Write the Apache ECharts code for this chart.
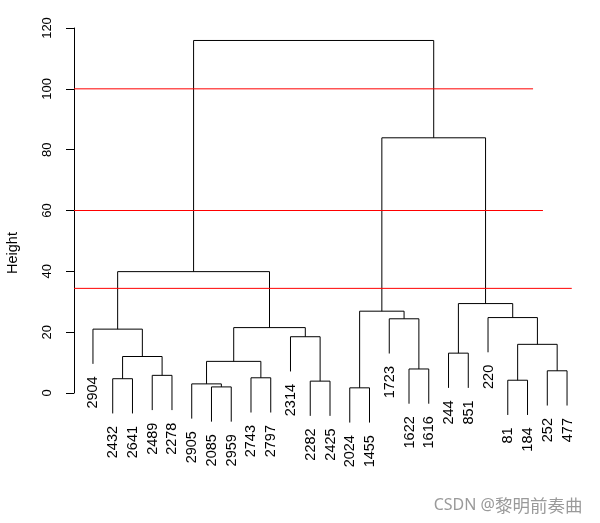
<!DOCTYPE html>
<html><head><meta charset="utf-8">
<script src="https://cdn.jsdelivr.net/npm/echarts@6/dist/echarts.min.js"></script>
<style>html,body{margin:0;padding:0;background:#fff}#c{width:600px;height:523px}</style>
</head><body><div id="c"></div>
<script>
// Leaf labels in dendrogram order
const leafLabels = ['2904','2432','2641','2489','2278','2905','2085','2959','2743','2797','2314','2282','2425','2024','1455','1723','1622','1616','244','851','220','81','184','252','477'];
// Merge table (R hclust style): negative = leaf position (1-based in order), positive = earlier merge number
const mergeA = [-14,-7,-6,-12,-22,-2,-9,-4,-24,-17,3,6,-19,5,-11,-1,11,-16,-21,1,13,16,20,22];
const mergeB = [-15,-8,2,-13,-23,-3,-10,-5,-25,-18,7,8,-20,9,4,12,15,10,14,18,19,17,21,23];
const mergeHeight = [1.7,2.0,3.0,3.9,4.2,4.7,5.0,5.8,7.3,7.9,10.4,12.0,13.1,16.0,18.5,21.0,21.5,24.4,24.8,26.9,29.4,39.9,83.9,115.9];
// Red cut lines: height and right end (in leaf-position units)
const cutHeights = [100, 60, 34.4];
const cutEnds = [23.28, 23.78, 25.24];
const yTicks = [0, 20, 40, 60, 80, 100, 120];

const n = leafLabels.length;
const xMin = 1 - 0.04 * (n - 1), xMax = n + 0.04 * (n - 1);
const hang = 0.1 * (Math.max(...mergeHeight) - Math.min(...mergeHeight));
const nodeX = [];
function childX(c) { return c < 0 ? -c : nodeX[c - 1]; }
for (let i = 0; i < mergeA.length; i++) nodeX.push((childX(mergeA[i]) + childX(mergeB[i])) / 2);

const chart = echarts.init(document.getElementById('c'), null, {renderer: 'canvas'});

function renderItem(params, api) {
  const i = api.value(0);
  const h = mergeHeight[i];
  const children = [];
  const pts = [];
  [mergeA[i], mergeB[i]].forEach((c, k) => {
    const cx = childX(c);
    const bottom = c < 0 ? h - hang : mergeHeight[c - 1];
    const pb = api.coord([cx, bottom]);
    const pt = api.coord([cx, h]);
    if (k === 0) { pts.push(pb, pt); } else { pts.push(pt, pb); }
    if (c < 0) {
      children.push({
        type: 'text', x: pb[0] + 0.5, y: pb[1] + 12.5, rotation: Math.PI / 2,
        style: { text: leafLabels[-c - 1], fill: '#000', font: '14.5px "Liberation Sans", Arial, sans-serif', align: 'right', verticalAlign: 'middle' }
      });
    }
  });
  children.push({ type: 'polyline', shape: { points: pts }, style: { stroke: '#000', lineWidth: 1, fill: null } });
  return { type: 'group', children: children };
}

const series = [{
  type: 'custom', renderItem: renderItem, clip: false,
  data: mergeHeight.map((h, i) => [i, h]),
  encode: { x: -1, y: 1 }, silent: true
}];
cutHeights.forEach((h, i) => {
  series.push({ type: 'line', data: [[xMin, h], [cutEnds[i], h]], symbol: 'none', silent: true,
    lineStyle: { color: '#ff0000', width: 1 }, z: 3 });
});

chart.setOption({
  animation: false,
  backgroundColor: '#fff',
  grid: { left: 74, right: 14, top: 28, bottom: 130 },
  xAxis: { type: 'value', min: xMin, max: xMax, show: false },
  yAxis: {
    type: 'value', min: yTicks[0], max: yTicks[yTicks.length - 1], interval: 20,
    axisLine: { show: true, lineStyle: { color: '#000', width: 1 } },
    axisTick: { show: true, length: 8, lineStyle: { color: '#000' } },
    axisLabel: { rotate: 90, fontSize: 13, color: '#000', fontFamily: '"Liberation Sans", Arial, sans-serif', margin: 20 },
    splitLine: { show: false }
  },
  graphic: [
    { type: 'text', x: 12.5, y: 253, rotation: Math.PI / 2,
      style: { text: 'Height', fill: '#000', font: '14.5px "Liberation Sans", Arial, sans-serif', align: 'center', verticalAlign: 'middle' } },
    { type: 'text', x: 495, y: 505,
      style: { text: 'CSDN @', fill: '#9a9a9a', font: '16px "Noto Sans", sans-serif', align: 'right', verticalAlign: 'middle' } },
    { type: 'text', x: 495, y: 505,
      style: { text: '黎明前奏曲', fill: '#9a9a9a', font: '17.5px "Noto Sans CJK SC", sans-serif', align: 'left', verticalAlign: 'middle' } }
  ],
  series: series
});
</script>
</body></html>
